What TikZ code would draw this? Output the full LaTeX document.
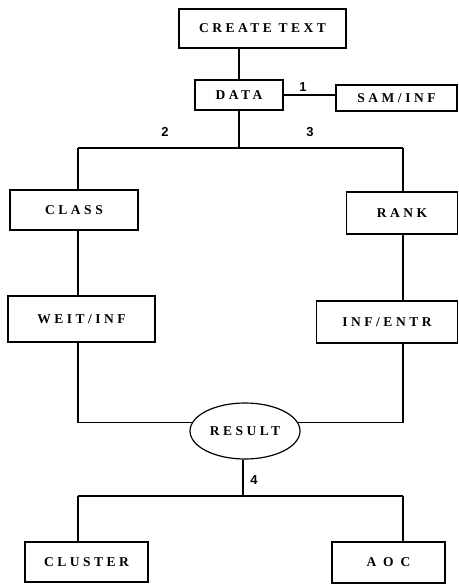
\documentclass[tikz,border=0pt]{standalone}
\usepackage{fontspec}
\setmainfont{Liberation Serif}
\newfontfamily\boxfont[LetterSpace=26,BoldFont={Liberation Serif Bold}]{Liberation Serif}
\newfontfamily\numfont{Liberation Sans}
\usetikzlibrary{shapes.geometric}
\begin{document}
\begin{tikzpicture}[x=1pt,y=-1pt,line width=1.2pt,
  boxnode/.style={draw,rectangle,inner sep=0pt,font=\boxfont\bfseries\fontsize{13.5}{15}\selectfont},
  ovalnode/.style={draw,ellipse,inner sep=0pt,font=\boxfont\bfseries\fontsize{13.5}{15}\selectfont},
  numlabel/.style={font=\numfont\bfseries\fontsize{13}{15}\selectfont,inner sep=0pt}]
\useasboundingbox (0,0) rectangle (458,585);
\coordinate (colL) at (78,0);
\coordinate (colR) at (403,0);
\node[boxnode,minimum width=167pt,minimum height=39pt] (ct) at (262.5,28.5) {CREATE TEXT};
\node[boxnode,minimum width=88pt,minimum height=30pt] (data) at (239,95) {DATA};
\node[boxnode,minimum width=121pt,minimum height=26pt] (sam) at (396.5,98) {SAM/INF};
\node[boxnode,minimum width=128pt,minimum height=40pt] (class) at (74,210) {CLASS};
\node[boxnode,minimum width=111pt,minimum height=42pt] (rank) at (402,213) {RANK};
\node[boxnode,minimum width=147pt,minimum height=46pt] (weit) at (81.5,319) {WEIT/INF};
\node[boxnode,minimum width=141pt,minimum height=42pt] (ie) at (387,322) {INF/ENTR};
\node[ovalnode,minimum width=110pt,minimum height=56pt] (res) at (245,431) {RESULT};
\node[boxnode,minimum width=123pt,minimum height=40pt] (clu) at (86.5,562) {CLUSTER};
\node[boxnode,minimum width=113pt,minimum height=41pt] (aoc) at (388.5,562.5) {A O C};
\coordinate (j1) at (239,148);
\coordinate (j2) at (243,496);
% connectors
\draw (data.north |- ct.south) -- (data.north);
\draw (data.east) -- (sam.west |- data.east);
\draw (data.south) -- (j1);
\draw (j1 -| colL) -- (j1 -| colR);
\draw (j1 -| colL) -- (class.north -| colL);
\draw (j1 -| colR) -- (rank.north -| colR);
\draw (class.south -| colL) -- (weit.north -| colL);
\draw (rank.south -| colR) -- (ie.north -| colR);
\draw (weit.south -| colL) |- (res.171);
\draw (ie.south -| colR) |- (res.9);
\draw (res.south -| j2) -- (j2);
\draw (j2 -| colL) -- (j2 -| colR);
\draw (j2 -| colL) -- (clu.north -| colL);
\draw (j2 -| colR) -- (aoc.north -| colR);
% labels
\node[numlabel] (l1) at (303,87) {1};
\node[numlabel] (l2) at (165,132) {2};
\node[numlabel] (l3) at (310,132) {3};
\node[numlabel] (l4) at (254,480) {4};
\end{tikzpicture}
\end{document}
